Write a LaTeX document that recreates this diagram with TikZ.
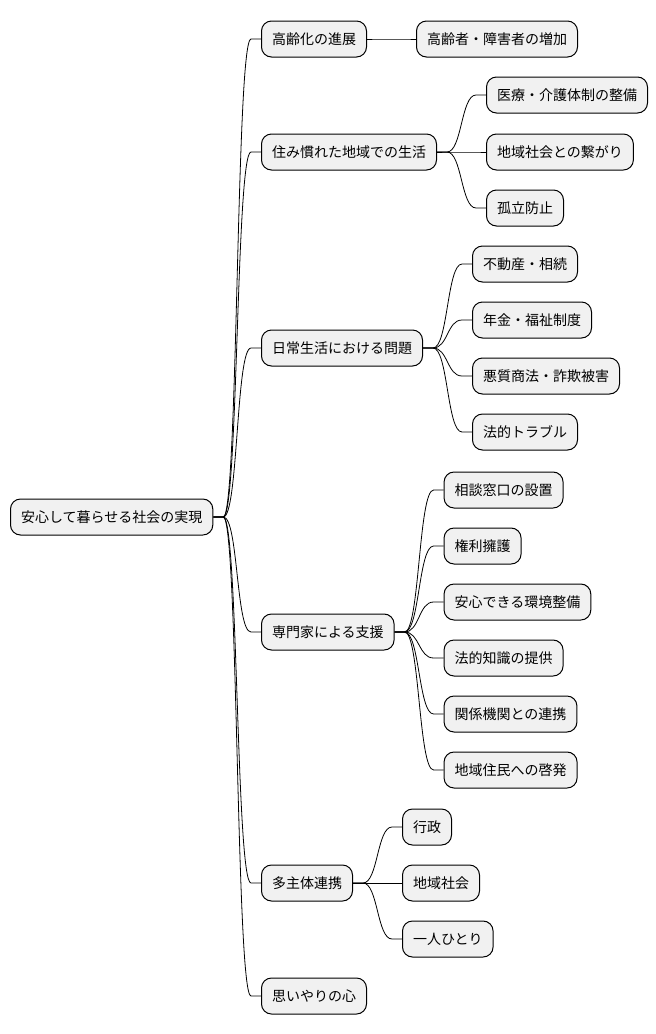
\documentclass[tikz,border=0pt]{standalone}
\usepackage{fontspec}
\setmainfont{Noto Sans CJK JP}
\definecolor{boxgray}{HTML}{F1F1F1}

\begin{document}
\begin{tikzpicture}[x=1pt,y=-1pt,
    box/.style={draw=black, line width=1pt, fill=boxgray, rounded corners=10pt,
        inner xsep=10.5pt, inner ysep=0pt, minimum height=36pt, anchor=west,
        font=\fontsize{14}{16}\selectfont},
    edge/.style={draw=black, line width=0.8pt}]
    \fill[white] (0,0) rectangle (656,1034);
    \useasboundingbox (0,0) rectangle (656,1034);
    % root
    \node[box] (root) at (10,517) {安心して暮らせる社会の実現};
    % first level
    \node[box] (k1) at (261,39) {高齢化の進展};
    \node[box] (k2) at (261,152) {住み慣れた地域での生活};
    \node[box] (k3) at (261,348) {日常生活における問題};
    \node[box] (k4) at (261,632) {専門家による支援};
    \node[box] (k5) at (261,883) {多主体連携};
    \node[box] (k6) at (261,996) {思いやりの心};
    % second level
    \node[box, xshift=49pt] (k1a) at (k1.east |- 0,39) {高齢者・障害者の増加};
    \node[box, xshift=49pt] (k2a) at (k2.east |- 0,95) {医療・介護体制の整備};
    \node[box, xshift=49pt] (k2b) at (k2.east |- 0,152) {地域社会との繋がり};
    \node[box, xshift=49pt] (k2c) at (k2.east |- 0,208) {孤立防止};
    \node[box, xshift=49pt] (k3a) at (k3.east |- 0,264) {不動産・相続};
    \node[box, xshift=49pt] (k3b) at (k3.east |- 0,320) {年金・福祉制度};
    \node[box, xshift=49pt] (k3c) at (k3.east |- 0,376) {悪質商法・詐欺被害};
    \node[box, xshift=49pt] (k3d) at (k3.east |- 0,432) {法的トラブル};
    \node[box, xshift=49pt] (k4a) at (k4.east |- 0,490) {相談窓口の設置};
    \node[box, xshift=49pt] (k4b) at (k4.east |- 0,546) {権利擁護};
    \node[box, xshift=49pt] (k4c) at (k4.east |- 0,602) {安心できる環境整備};
    \node[box, xshift=49pt] (k4d) at (k4.east |- 0,658) {法的知識の提供};
    \node[box, xshift=49pt] (k4e) at (k4.east |- 0,714) {関係機関との連携};
    \node[box, xshift=49pt] (k4f) at (k4.east |- 0,770) {地域住民への啓発};
    \node[box, xshift=49pt] (k5a) at (k5.east |- 0,827) {行政};
    \node[box, xshift=49pt] (k5b) at (k5.east |- 0,883) {地域社会};
    \node[box, xshift=49pt] (k5c) at (k5.east |- 0,939) {一人ひとり};
    % branches
    \foreach \a/\b in {root/k1, root/k2, root/k3, root/k4, root/k5, root/k6,
        k1/k1a, k2/k2a, k2/k2b, k2/k2c, k3/k3a, k3/k3b, k3/k3c, k3/k3d,
        k4/k4a, k4/k4b, k4/k4c, k4/k4d, k4/k4e, k4/k4f, k5/k5a, k5/k5b, k5/k5c}
        \draw[edge] (\a.east) -- ++(10,0) .. controls +(15,0) and +(-15,0) .. ([xshift=-10pt]\b.west) -- (\b.west);
\end{tikzpicture}
\end{document}
